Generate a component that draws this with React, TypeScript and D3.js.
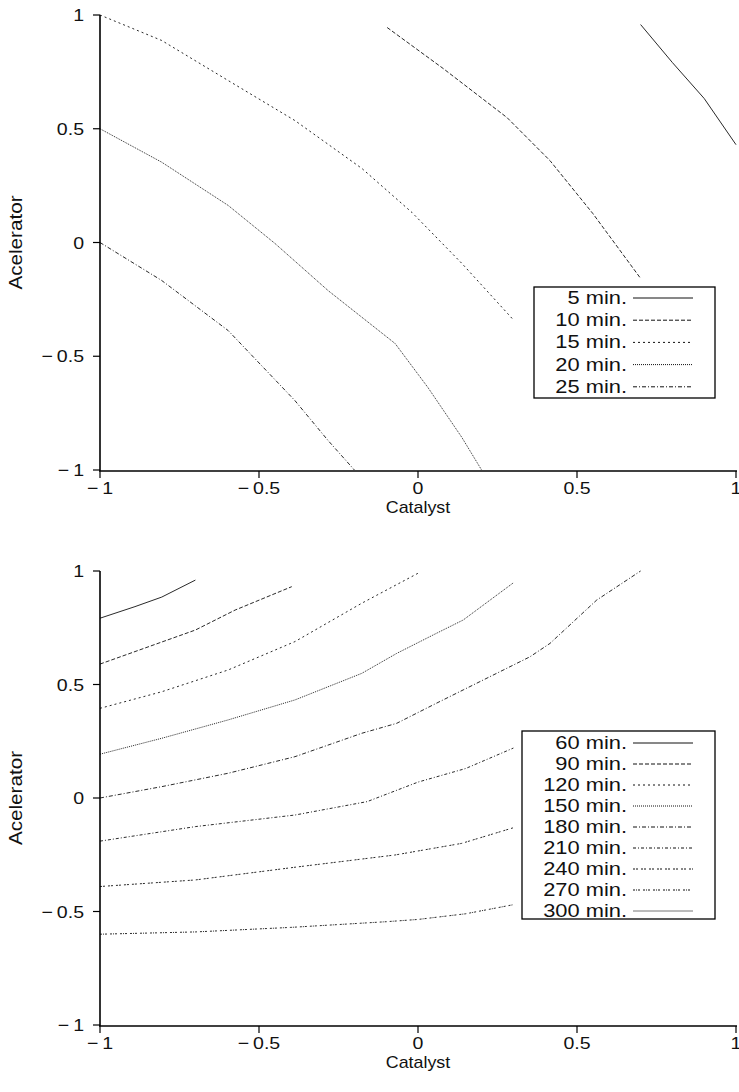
import React from "react";
import * as d3 from "d3";

// Top panel contours (Catalyst x, Acelerator y)
const c5x = [0.70, 0.80, 0.90, 1.0];
const c5y = [0.958, 0.791, 0.633, 0.43];
const c10x = [-0.097, 0.079, 0.28, 0.415, 0.55, 0.698];
const c10y = [0.945, 0.765, 0.549, 0.36, 0.127, -0.154];
const c15x = [-1.0, -0.806, -0.597, -0.387, -0.176, -0.019, 0.138, 0.30];
const c15y = [1.0, 0.888, 0.712, 0.536, 0.325, 0.132, -0.092, -0.34];
const c20x = [-1.0, -0.806, -0.597, -0.45, -0.283, -0.072, 0.031, 0.138, 0.2];
const c20y = [0.5, 0.353, 0.163, -0.004, -0.211, -0.444, -0.637, -0.857, -1.0];
const c25x = [-1.0, -0.806, -0.597, -0.387, -0.283, -0.2];
const c25y = [0.0, -0.167, -0.387, -0.695, -0.87, -1.0];

// Bottom panel contours
const c60x = [-1.0, -0.89, -0.806, -0.70];
const c60y = [0.792, 0.843, 0.885, 0.96];
const c90x = [-1.0, -0.70, -0.575, -0.397];
const c90y = [0.59, 0.74, 0.828, 0.931];
const c120x = [-1.0, -0.806, -0.597, -0.387, -0.177, 0.0];
const c120y = [0.395, 0.468, 0.564, 0.689, 0.858, 0.99];
const c150x = [-1.0, -0.806, -0.597, -0.387, -0.177, -0.067, 0.053, 0.142, 0.30];
const c150y = [0.193, 0.263, 0.344, 0.432, 0.549, 0.637, 0.722, 0.784, 0.948];
const c180x = [-1.0, -0.806, -0.597, -0.387, -0.177, -0.067, 0.053, 0.142, 0.352, 0.415, 0.562, 0.70];
const c180y = [0.0, 0.05, 0.109, 0.182, 0.285, 0.329, 0.414, 0.476, 0.622, 0.681, 0.872, 1.0];
const c210x = [-1.0, -0.70, -0.387, -0.16, 0.0, 0.15, 0.30];
const c210y = [-0.19, -0.126, -0.075, -0.016, 0.07, 0.13, 0.22];
const c240x = [-1.0, -0.70, -0.387, -0.072, 0.137, 0.30];
const c240y = [-0.39, -0.361, -0.305, -0.251, -0.2, -0.131];
const c270x = [-1.0, -0.70, -0.40, -0.10, 0.0, 0.15, 0.30];
const c270y = [-0.6, -0.59, -0.57, -0.545, -0.535, -0.51, -0.47];

const topLabels = ["5 min.", "10 min.", "15 min.", "20 min.", "25 min."];
const bottomLabels = ["60 min.", "90 min.", "120 min.", "150 min.", "180 min.", "210 min.", "240 min.", "270 min.", "300 min."];
const ticks = [-1, -0.5, 0, 0.5, 1];

const dashes = ["", "4,2", "2,3", "1,1", "4,2,1,2", "3,2,1,2", "2,1,2,3", "2,1,1,1,2,3", ""];
const colors = ["#111", "#111", "#111", "#111", "#111", "#111", "#111", "#111", "#777"];

const zip = (xs: number[], ys: number[]) => xs.map((x, i) => [x, ys[i]] as [number, number]);

const topSeries = [zip(c5x, c5y), zip(c10x, c10y), zip(c15x, c15y), zip(c20x, c20y), zip(c25x, c25y)];
const bottomSeries = [
  zip(c60x, c60y), zip(c90x, c90y), zip(c120x, c120y), zip(c150x, c150y),
  zip(c180x, c180y), zip(c210x, c210y), zip(c240x, c240y), zip(c270x, c270y),
];

const FONT = "Liberation Sans, Arial, Helvetica, sans-serif";
const fmt = (v: number) => (v < 0 ? "\u2212\u2009" + String(-v) : String(v));

function Txt({ x, y, anchor, size, sx, children }: any) {
  return (
    <text transform={`translate(${x},${y}) scale(${sx},1)`} textAnchor={anchor} fontSize={size} fontFamily={FONT} fill="#111">
      {children}
    </text>
  );
}

function Panel({ top, bottom, series, labels, legend }: any) {
  const x = d3.scaleLinear().domain([-1, 1]).range([100, 736]);
  const y = d3.scaleLinear().domain([-1, 1]).range([bottom, top]);
  const line = d3.line<[number, number]>().x((d) => x(d[0])).y((d) => y(d[1]));
  const midY = (top + bottom) / 2;
  return (
    <g>
      {series.map((s: [number, number][], i: number) => (
        <path key={i} d={line(s) || ""} fill="none" stroke={colors[i]} strokeWidth={0.9} strokeDasharray={dashes[i]} />
      ))}
      <line x1={100} x2={100} y1={top} y2={bottom + 1} stroke="#000" strokeWidth={1.6} />
      <line x1={99} x2={737} y1={bottom + 1} y2={bottom + 1} stroke="#000" strokeWidth={1.6} />
      {ticks.map((t) => (
        <g key={"y" + t}>
          <line x1={93} x2={100} y1={y(t)} y2={y(t)} stroke="#000" strokeWidth={1.2} />
          <Txt x={84} y={y(t) + 6} anchor="end" size={17} sx={1.15}>{fmt(t)}</Txt>
        </g>
      ))}
      {ticks.map((t) => (
        <g key={"x" + t}>
          <line x1={x(t)} x2={x(t)} y1={bottom + 1} y2={bottom + 8} stroke="#000" strokeWidth={1.2} />
          <Txt x={x(t)} y={bottom + 24} anchor="middle" size={17} sx={1.15}>{fmt(t)}</Txt>
        </g>
      ))}
      <Txt x={418} y={bottom + 43} anchor="middle" size={17} sx={1.05}>Catalyst</Txt>
      <text transform={`translate(22,${midY}) rotate(-90) scale(1.15,1)`} textAnchor="middle" fontSize={18} fontFamily={FONT} fill="#111">Acelerator</text>
      <g>
        <rect x={legend.x0} y={legend.y0} width={legend.x1 - legend.x0} height={legend.y1 - legend.y0} fill="#fff" stroke="#000" strokeWidth={1.3} />
        {labels.map((lab: string, i: number) => {
          const cy = legend.first + i * legend.step;
          return (
            <g key={lab}>
              <Txt x={627} y={cy + 6} anchor="end" size={17.5} sx={1.25}>{lab}</Txt>
              <line x1={633} x2={693} y1={cy} y2={cy} stroke={colors[i]} strokeWidth={1} strokeDasharray={dashes[i]} />
            </g>
          );
        })}
      </g>
    </g>
  );
}

export default function App() {
  return (
    <svg width={739} height={1092} style={{ position: "absolute", left: 0, top: 0, background: "#fff" }}>
      <Panel top={15} bottom={470} series={topSeries} labels={topLabels}
        legend={{ x0: 534, x1: 715, y0: 287, y1: 398, first: 298, step: 22.2 }} />
      <Panel top={571} bottom={1025} series={bottomSeries} labels={bottomLabels}
        legend={{ x0: 522, x1: 715, y0: 731, y1: 919, first: 743, step: 21 }} />
    </svg>
  );
}
